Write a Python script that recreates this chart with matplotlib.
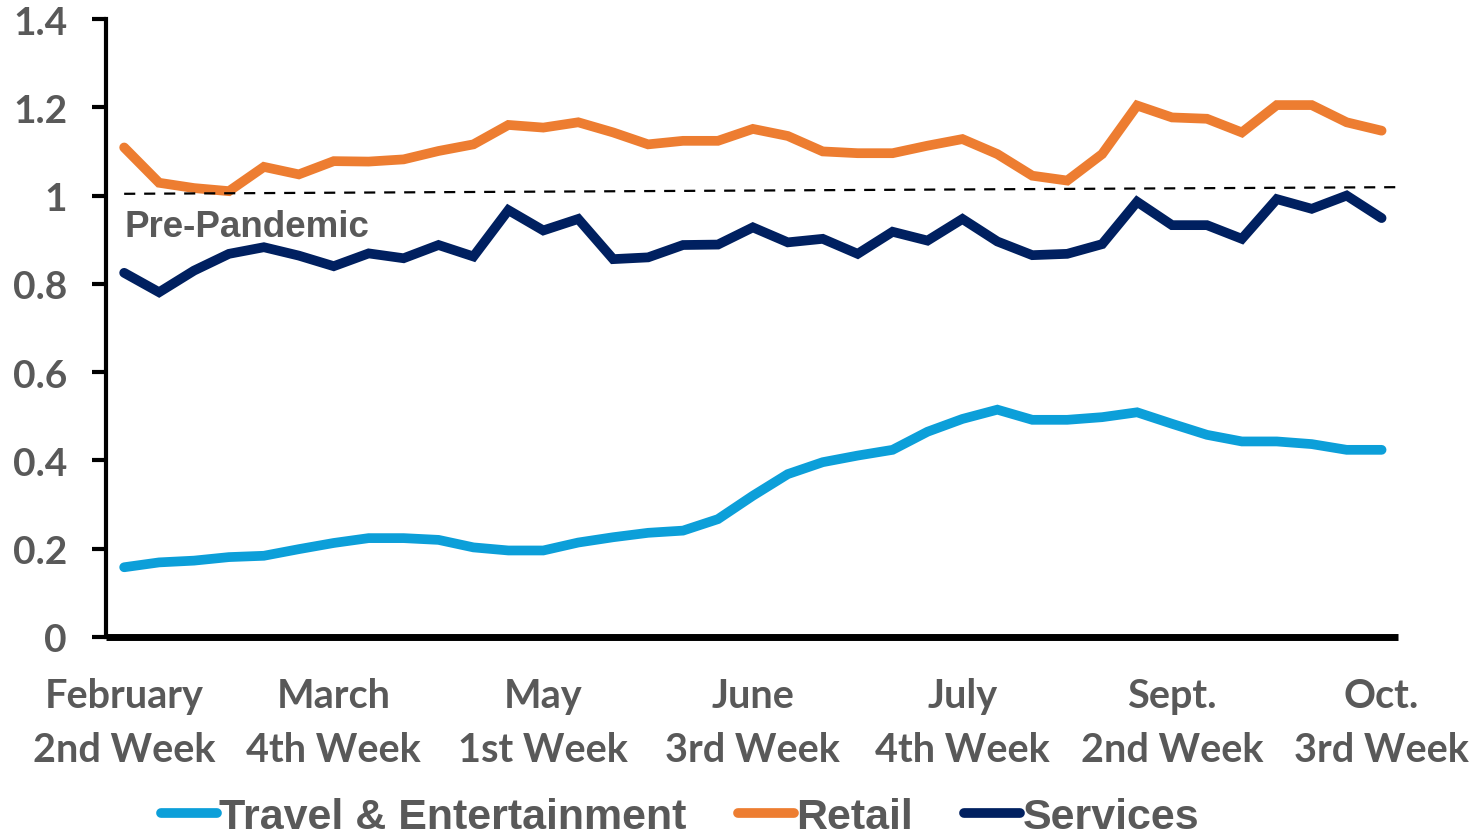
import matplotlib.pyplot as plt

## weekly index values (1.0 = pre-pandemic)
travel = [0.158, 0.169, 0.173, 0.181, 0.184, 0.199, 0.213, 0.224, 0.224, 0.220,
          0.203, 0.196, 0.196, 0.214, 0.226, 0.236, 0.241, 0.267, 0.320, 0.369,
          0.396, 0.411, 0.424, 0.465, 0.494, 0.515, 0.492, 0.492, 0.498, 0.509,
          0.483, 0.458, 0.443, 0.443, 0.437, 0.424, 0.424]
retail = [1.109, 1.029, 1.017, 1.010, 1.065, 1.048, 1.078, 1.077, 1.082, 1.101,
          1.116, 1.160, 1.154, 1.166, 1.143, 1.116, 1.124, 1.124, 1.151, 1.135,
          1.100, 1.096, 1.096, 1.113, 1.128, 1.094, 1.045, 1.034, 1.094, 1.204,
          1.177, 1.174, 1.143, 1.205, 1.205, 1.166, 1.147]
services = [0.825, 0.781, 0.830, 0.868, 0.883, 0.864, 0.840, 0.869, 0.858, 0.888,
            0.862, 0.967, 0.921, 0.947, 0.856, 0.860, 0.888, 0.889, 0.928, 0.894,
            0.902, 0.868, 0.918, 0.898, 0.947, 0.896, 0.865, 0.868, 0.890, 0.986,
            0.933, 0.933, 0.902, 0.992, 0.970, 1.000, 0.949]

tick_pos = [0, 6, 12, 18, 24, 30, 36]
tick_labels = ["February\n2nd Week", "March\n4th Week", "May\n1st Week", "June\n3rd Week",
               "July\n4th Week", "Sept.\n2nd Week", "Oct.\n3rd Week"]
y_ticks = [0, 0.2, 0.4, 0.6, 0.8, 1.0, 1.2, 1.4]
y_labels = ["0", "0.2", "0.4", "0.6", "0.8", "1", "1.2", "1.4"]
baseline_x = [0, 36.4]
baseline_y = [1.004, 1.019]

GRAY = "#595959"
TICK_FONT = "Lato"
TEXT_FONT = "Liberation Sans"

fig = plt.figure(figsize=(14.73, 8.37), dpi=100)
ax = fig.add_axes([106 / 1473, 1 - 638 / 837, (1398 - 106) / 1473, (638 - 20) / 837])

x = list(range(len(travel)))
ax.plot(x, travel, color="#0c9fd9", lw=7, solid_capstyle="round", solid_joinstyle="miter",
        label="Travel & Entertainment")
ax.plot(x, retail, color="#ed7d31", lw=7, solid_capstyle="round", solid_joinstyle="miter",
        label="Retail")
ax.plot(x, services, color="#002060", lw=7, solid_capstyle="round", solid_joinstyle="miter",
        label="Services")

# pre-pandemic reference line
ax.plot(baseline_x, baseline_y, color="black", lw=1.6, dashes=(5, 4))
ax.text(0, 0.93, "Pre-Pandemic", color=GRAY, fontsize=26.5, fontweight="bold",
        family=TEXT_FONT, ha="left", va="center")

ax.set_xlim(-0.52, 36.47)
ax.set_ylim(0, 1.4)

ax.set_yticks(y_ticks)
ax.set_yticklabels(y_labels, family=TICK_FONT, fontweight="bold", fontsize=28, color=GRAY)
ax.set_xticks(tick_pos)
ax.set_xticklabels(tick_labels, family=TICK_FONT, fontweight="bold", fontsize=28.5,
                   color=GRAY, linespacing=1.55)

ax.tick_params(axis="y", length=10, width=3, pad=18, direction="out")
ax.tick_params(axis="x", length=0, pad=29)

for s in ["top", "right"]:
    ax.spines[s].set_visible(False)
ax.spines["left"].set_linewidth(3)
ax.spines["bottom"].set_linewidth(5)
ax.spines["bottom"].set_capstyle("butt")

leg = fig.legend(loc="center", bbox_to_anchor=(680 / 1473, 1 - 818 / 837), ncol=3,
                 frameon=False, handlelength=1.3, handletextpad=0.05, columnspacing=1.2,
                 prop={"family": TEXT_FONT, "weight": "bold", "size": 31})
for t in leg.get_texts():
    t.set_color(GRAY)

fig.savefig("out.png", dpi=100)
